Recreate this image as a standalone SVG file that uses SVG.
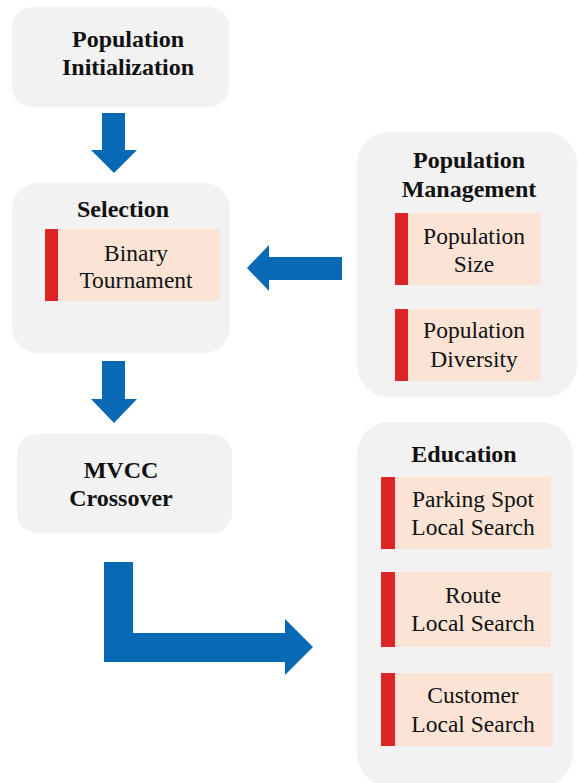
<svg xmlns="http://www.w3.org/2000/svg" width="578" height="783" viewBox="0 0 578 783" font-family="Liberation Serif, DejaVu Serif, serif">
  <style>
    .panel { fill: #f2f2f2; }
    .item { fill: #fbe4d6; }
    .bar { fill: #dc2527; }
    .arrow { fill: #0a69b4; }
    text { font-size: 23.5px; fill: #111; text-anchor: middle; }
    .title { font-weight: bold; font-size: 24px; }
  </style>
  <rect width="578" height="783" fill="#ffffff"/>

  <!-- connectors: block arrows -->
  <g id="connectors">
    <polygon class="arrow" points="102,113 125,113 125,150 137,150 114,173 91,150 102,150"/>
    <polygon class="arrow" points="342,257 342,280 269,280 269,291 247,268 269,245 269,257"/>
    <polygon class="arrow" points="102,361 125,361 125,399 137,399 114,423 91,399 102,399"/>
    <polygon class="arrow" points="104,562 133,562 133,633 285,633 285,619 313,647 285,675 285,662 104,662"/>
  </g>

  <g id="population-initialization">
    <rect class="panel" x="12" y="7" width="217" height="100" rx="20"/>
    <text class="title" x="128" y="47">Population</text>
    <text class="title" x="128" y="75">Initialization</text>
  </g>

  <g id="selection">
    <rect class="panel" x="12" y="183" width="218" height="170" rx="26"/>
    <text class="title" x="123" y="217">Selection</text>
    <g id="binary-tournament">
      <rect class="item" x="45" y="229" width="175" height="72"/>
      <rect class="bar" x="45" y="229" width="13" height="72"/>
      <text x="136" y="261">Binary</text>
      <text x="136" y="288">Tournament</text>
    </g>
  </g>

  <g id="population-management">
    <rect class="panel" x="357" y="132" width="220" height="265" rx="32"/>
    <text class="title" x="469" y="168">Population</text>
    <text class="title" x="469" y="197">Management</text>
    <g id="population-size">
      <rect class="item" x="395" y="213" width="146" height="72"/>
      <rect class="bar" x="395" y="213" width="13" height="72"/>
      <text x="474" y="244">Population</text>
      <text x="474" y="272">Size</text>
    </g>
    <g id="population-diversity">
      <rect class="item" x="395" y="309" width="146" height="72"/>
      <rect class="bar" x="395" y="309" width="13" height="72"/>
      <text x="474" y="338">Population</text>
      <text x="474" y="367">Diversity</text>
    </g>
  </g>

  <g id="mvcc-crossover">
    <rect class="panel" x="17" y="434" width="215" height="99" rx="20"/>
    <text class="title" x="121" y="478">MVCC</text>
    <text class="title" x="121" y="506">Crossover</text>
  </g>

  <g id="education">
    <rect class="panel" x="357" y="422" width="216" height="364" rx="32"/>
    <text class="title" x="464" y="462">Education</text>
    <g id="parking-spot-local-search">
      <rect class="item" x="381" y="477" width="170" height="72"/>
      <rect class="bar" x="381" y="477" width="14" height="72"/>
      <text x="473" y="507">Parking Spot</text>
      <text x="473" y="535">Local Search</text>
    </g>
    <g id="route-local-search">
      <rect class="item" x="381" y="572" width="170" height="75"/>
      <rect class="bar" x="381" y="572" width="14" height="75"/>
      <text x="473" y="603">Route</text>
      <text x="473" y="631">Local Search</text>
    </g>
    <g id="customer-local-search">
      <rect class="item" x="381" y="673" width="172" height="73"/>
      <rect class="bar" x="381" y="673" width="14" height="73"/>
      <text x="473" y="703">Customer</text>
      <text x="473" y="732">Local Search</text>
    </g>
  </g>
</svg>
